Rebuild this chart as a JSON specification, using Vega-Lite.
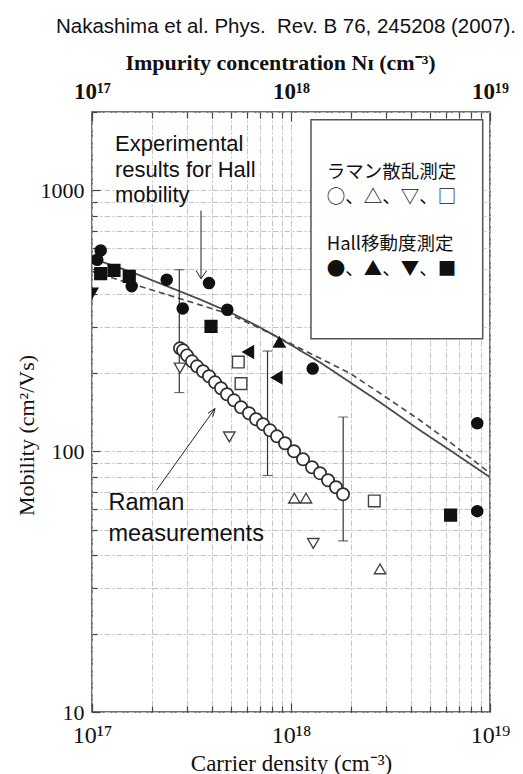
{
  "$schema": "https://vega.github.io/schema/vega-lite/v6.json",
  "width": 398,
  "height": 600,
  "autosize": {"type": "none"},
  "padding": {"left": 92, "top": 112, "right": 33, "bottom": 62},
  "background": "white",
  "config": {
    "view": {"stroke": "#444", "strokeWidth": 1.5},
    "axis": {"domain": false, "labelOverlap": false, "labelFlush": false, "labelBound": false}
  },
  "title": {
    "text": "Nakashima et al. Phys.\u00a0 Rev. B 76, 245208 (2007).",
    "anchor": "end",
    "frame": "group",
    "font": "Liberation Sans",
    "fontSize": 20.5,
    "fontWeight": "normal",
    "color": "#111",
    "dx": 26,
    "offset": 14
  },
  "resolve": {"axis": {"x": "independent"}},
  "datasets": {
    "curves": [
      {"n": 1e17, "mu": 549, "model": "A"},
      {"n": 1.552e17, "mu": 489.3, "model": "A"},
      {"n": 2.197e17, "mu": 440.3, "model": "A"},
      {"n": 3.488e17, "mu": 382.2, "model": "A"},
      {"n": 4.937e17, "mu": 341, "model": "A"},
      {"n": 6.986e17, "mu": 298.7, "model": "A"},
      {"n": 9.885e17, "mu": 257, "model": "A"},
      {"n": 1.399e18, "mu": 219.3, "model": "A"},
      {"n": 1.979e18, "mu": 183.8, "model": "A"},
      {"n": 2.801e18, "mu": 154.1, "model": "A"},
      {"n": 4.448e18, "mu": 120.3, "model": "A"},
      {"n": 6.295e18, "mu": 100.9, "model": "A"},
      {"n": 1e19, "mu": 79.5, "model": "A"},
      {"n": 1e17, "mu": 489.3, "model": "B"},
      {"n": 1.552e17, "mu": 440.3, "model": "B"},
      {"n": 2.197e17, "mu": 406.5, "model": "B"},
      {"n": 3.488e17, "mu": 364.1, "model": "B"},
      {"n": 4.937e17, "mu": 334.9, "model": "B"},
      {"n": 6.986e17, "mu": 296.1, "model": "B"},
      {"n": 9.885e17, "mu": 259.3, "model": "B"},
      {"n": 1.399e18, "mu": 227.2, "model": "B"},
      {"n": 1.979e18, "mu": 199, "model": "B"},
      {"n": 2.801e18, "mu": 166.9, "model": "B"},
      {"n": 4.448e18, "mu": 131.5, "model": "B"},
      {"n": 6.295e18, "mu": 108.3, "model": "B"},
      {"n": 1e19, "mu": 82.4, "model": "B"}
    ],
    "box": [{"x1": 1.26e18, "x2": 9.19e18, "y1": 1866, "y2": 270.3}],
    "errs": [
      {"n": 2.746e17, "lo": 167.9, "hi": 496.8},
      {"n": 7.62e17, "lo": 80.7, "hi": 242.3},
      {"n": 1.829e18, "lo": 45.3, "hi": 135.3}
    ],
    "pts": [
      {"n": 1.106e17, "mu": 589, "s": "1", "method": "Hall"},
      {"n": 1.063e17, "mu": 542.6, "s": "1", "method": "Hall"},
      {"n": 1.583e17, "mu": 429.8, "s": "1", "method": "Hall"},
      {"n": 2.374e17, "mu": 454.9, "s": "1", "method": "Hall"},
      {"n": 3.872e17, "mu": 441.4, "s": "1", "method": "Hall"},
      {"n": 2.857e17, "mu": 353, "s": "1", "method": "Hall"},
      {"n": 4.786e17, "mu": 349, "s": "1", "method": "Hall"},
      {"n": 1.285e18, "mu": 207.5, "s": "1", "method": "Hall"},
      {"n": 8.63e18, "mu": 128, "s": "1", "method": "Hall"},
      {"n": 8.63e18, "mu": 58.9, "s": "1", "method": "Hall"},
      {"n": 1.106e17, "mu": 479.6, "s": "4", "method": "Hall"},
      {"n": 1.29e17, "mu": 493.7, "s": "4", "method": "Hall"},
      {"n": 1.539e17, "mu": 468.3, "s": "4", "method": "Hall"},
      {"n": 3.963e17, "mu": 301.2, "s": "4", "method": "Hall"},
      {"n": 6.34e18, "mu": 56.9, "s": "4", "method": "Hall"},
      {"n": 8.736e17, "mu": 262.3, "s": "2", "method": "Hall"},
      {"n": 1.0e17, "mu": 404, "s": "3", "method": "Hall"},
      {"n": 6.1e17, "mu": 240.2, "s": "5", "method": "Hall"},
      {"n": 8.476e17, "mu": 191.6, "s": "5", "method": "Hall"},
      {"n": 5.436e17, "mu": 219.8, "s": "4", "method": "Raman"},
      {"n": 5.608e17, "mu": 181.7, "s": "4", "method": "Raman"},
      {"n": 2.621e18, "mu": 64.5, "s": "4", "method": "Raman"},
      {"n": 1.039e18, "mu": 66.1, "s": "2", "method": "Raman"},
      {"n": 1.19e18, "mu": 66.1, "s": "2", "method": "Raman"},
      {"n": 2.801e18, "mu": 35.4, "s": "2", "method": "Raman"},
      {"n": 2.768e17, "mu": 208.5, "s": "3", "method": "Raman"},
      {"n": 4.898e17, "mu": 113.4, "s": "3", "method": "Raman"},
      {"n": 1.294e18, "mu": 44.3, "s": "3", "method": "Raman"}
    ],
    "raman": [
      {"n": 2.768e17, "mu": 248.1},
      {"n": 2.867e17, "mu": 243.8},
      {"n": 3.001e17, "mu": 233.2},
      {"n": 3.181e17, "mu": 221.2},
      {"n": 3.371e17, "mu": 211.7},
      {"n": 3.612e17, "mu": 202.6},
      {"n": 3.872e17, "mu": 193.9},
      {"n": 4.151e17, "mu": 183.8},
      {"n": 4.449e17, "mu": 174.4},
      {"n": 4.769e17, "mu": 165.4},
      {"n": 5.171e17, "mu": 156.8},
      {"n": 5.608e17, "mu": 147.5},
      {"n": 6.151e17, "mu": 139.9},
      {"n": 6.672e17, "mu": 132.7},
      {"n": 7.234e17, "mu": 126.9},
      {"n": 7.845e17, "mu": 120.3},
      {"n": 8.505e17, "mu": 114.1},
      {"n": 9.329e17, "mu": 107.3},
      {"n": 1.035e18, "mu": 100},
      {"n": 1.149e18, "mu": 93.2},
      {"n": 1.275e18, "mu": 86.8},
      {"n": 1.399e18, "mu": 82.4},
      {"n": 1.535e18, "mu": 77.4},
      {"n": 1.683e18, "mu": 72.8},
      {"n": 1.825e18, "mu": 68.4}
    ],
    "arrows": [
      {"x": 3.53e17, "y": 838, "x2": 3.53e17, "y2": 458.9},
      {"x": 3.332e17, "y": 493.7, "x2": 3.53e17, "y2": 458.9},
      {"x": 3.771e17, "y": 493.7, "x2": 3.53e17, "y2": 458.9},
      {"x": 2.11e17, "y": 70.9, "x2": 4.151e17, "y2": 145.8},
      {"x": 4.045e17, "y": 135.6, "x2": 4.151e17, "y2": 145.8},
      {"x": 3.823e17, "y": 139.8, "x2": 4.151e17, "y2": 145.8}
    ],
    "notes": [
      {"n": 1.305e17, "mu": 1423, "t": "Experimental", "g": "hall"},
      {"n": 1.305e17, "mu": 1131, "t": "results for Hall", "g": "hall"},
      {"n": 1.305e17, "mu": 899.5, "t": "mobility", "g": "hall"},
      {"n": 1.21e17, "mu": 59.4, "t": "Raman", "g": "raman"},
      {"n": 1.21e17, "mu": 45.3, "t": "measurements", "g": "raman"}
    ],
    "legend": [
      {"n": 1.511e18, "mu": 1182, "t": "ラマン散乱測定"},
      {"n": 1.511e18, "mu": 942.6, "t": "○、△、▽、□"},
      {"n": 1.511e18, "mu": 621, "t": "Hall移動度測定"},
      {"n": 1.511e18, "mu": 501, "t": "●、▲、▼、■"}
    ]
  },
  "layer": [
    {
      "data": {"name": "curves"},
      "mark": {"type": "line", "color": "#4a4a4a", "clip": true},
      "encoding": {
        "x": {
          "field": "n", "type": "quantitative",
          "scale": {"type": "log", "domain": [1e17, 1e19], "nice": false},
          "axis": {
            "orient": "bottom",
            "values": [1e17, 2e17, 3e17, 4e17, 5e17, 6e17, 7e17, 8e17, 9e17, 1e18, 2e18, 3e18, 4e18, 5e18, 6e18, 7e18, 8e18, 9e18, 1e19],
            "grid": true, "gridColor": "#c4c4c4", "gridDash": [6, 2, 2, 2], "gridWidth": 1,
            "labelExpr": "datum.value == 1e17 ? '10¹⁷' : datum.value == 1e18 ? '10¹⁸' : datum.value == 1e19 ? '10¹⁹' : ''",
            "labelFont": "Liberation Serif", "labelFontSize": 24, "labelColor": "#111", "labelPadding": 20,
            "tickColor": "#444", "tickWidth": 1.2,
            "tickSize": {"condition": {"test": "datum.value == 1e17 || datum.value == 1e18 || datum.value == 1e19", "value": -9}, "value": -6},
            "title": "Carrier density (cm⁻³)", "titleFont": "Liberation Serif", "titleFontSize": 23, "titleFontWeight": "normal",
            "titleColor": "#111", "titleX": 199, "titleY": 51, "titleBaseline": "middle"
          }
        },
        "y": {
          "field": "mu", "type": "quantitative",
          "scale": {"type": "log", "domain": [10, 2000], "nice": false},
          "axis": {
            "values": [10, 20, 30, 40, 50, 60, 70, 80, 90, 100, 200, 300, 400, 500, 600, 700, 800, 900, 1000, 2000],
            "grid": true, "gridColor": "#c4c4c4", "gridDash": [6, 2, 2, 2], "gridWidth": 1,
            "labelExpr": "datum.value == 10 ? '10' : datum.value == 100 ? '100' : datum.value == 1000 ? '1000' : ''",
            "labelFont": "Liberation Serif", "labelFontSize": 22, "labelColor": "#111", "labelPadding": 16,
            "tickColor": "#444", "tickWidth": 1.2,
            "tickSize": {"condition": {"test": "datum.value == 10 || datum.value == 100 || datum.value == 1000", "value": -8}, "value": -5},
            "title": "Mobility (cm²/Vs)", "titleFont": "Liberation Serif", "titleFontSize": 22, "titleFontWeight": "normal",
            "titleColor": "#111", "titleX": -66, "titleY": 323, "titleBaseline": "middle", "titleAngle": -90
          }
        },
        "strokeDash": {"field": "model", "type": "nominal", "scale": {"domain": ["A", "B"], "range": [[1, 0], [6, 4]]}, "legend": null},
        "strokeWidth": {"field": "model", "type": "nominal", "scale": {"domain": ["A", "B"], "range": [1.8, 1.4]}, "legend": null}
      }
    },
    {
      "data": {"name": "box"},
      "mark": {"type": "rect", "fill": "white", "stroke": "#555", "strokeWidth": 1.5},
      "encoding": {
        "x": {
          "field": "x1", "type": "quantitative",
          "scale": {"type": "log", "domain": [1e17, 1e19], "nice": false},
          "axis": {
            "orient": "top",
            "values": [1e17, 2e17, 3e17, 4e17, 5e17, 6e17, 7e17, 8e17, 9e17, 1e18, 2e18, 3e18, 4e18, 5e18, 6e18, 7e18, 8e18, 9e18, 1e19],
            "grid": false,
            "labelExpr": "datum.value == 1e17 ? '10¹⁷' : datum.value == 1e18 ? '10¹⁸' : datum.value == 1e19 ? '10¹⁹' : ''",
            "labelFont": "Liberation Serif", "labelFontSize": 23, "labelFontWeight": "bold", "labelColor": "#111", "labelPadding": 18,
            "tickColor": "#444", "tickWidth": 1.2,
            "tickSize": {"condition": {"test": "datum.value == 1e17 || datum.value == 1e18 || datum.value == 1e19", "value": -9}, "value": -6},
            "title": "Impurity concentration Nɪ (cm⁻³)", "titleFont": "Liberation Serif", "titleFontSize": 22, "titleFontWeight": "bold",
            "titleColor": "#111", "titleX": 188, "titleY": -50, "titleBaseline": "middle"
          }
        },
        "x2": {"field": "x2"},
        "y": {"field": "y1", "type": "quantitative"},
        "y2": {"field": "y2"}
      }
    },
    {
      "data": {"name": "errs"},
      "mark": {"type": "rule", "color": "#333", "strokeWidth": 1.2},
      "encoding": {
        "x": {"field": "n", "type": "quantitative", "axis": null},
        "y": {"field": "lo", "type": "quantitative"},
        "y2": {"field": "hi"}
      }
    },
    {
      "data": {"name": "errs"},
      "mark": {"type": "tick", "orient": "horizontal", "color": "#333", "size": 10, "thickness": 1.2},
      "encoding": {
        "x": {"field": "n", "type": "quantitative", "axis": null},
        "y": {"field": "lo", "type": "quantitative"}
      }
    },
    {
      "data": {"name": "errs"},
      "mark": {"type": "tick", "orient": "horizontal", "color": "#333", "size": 10, "thickness": 1.2},
      "encoding": {
        "x": {"field": "n", "type": "quantitative", "axis": null},
        "y": {"field": "hi", "type": "quantitative"}
      }
    },
    {
      "data": {"name": "pts"},
      "mark": {"type": "point", "filled": true, "opacity": 1, "clip": true},
      "encoding": {
        "x": {"field": "n", "type": "quantitative", "axis": null},
        "y": {"field": "mu", "type": "quantitative"},
        "shape": {"field": "s", "type": "nominal", "scale": {"domain": ["1", "2", "3", "4", "5"], "range": ["circle", "triangle-up", "triangle-down", "square", "triangle-left"]}, "legend": null},
        "size": {"field": "s", "type": "nominal", "scale": {"domain": ["1", "2", "3", "4", "5"], "range": [121, 140, 140, 72, 125]}, "legend": null},
        "fill": {"field": "method", "type": "nominal", "scale": {"domain": ["Hall", "Raman"], "range": ["#111", "#ffffff"]}, "legend": null},
        "stroke": {"field": "method", "type": "nominal", "scale": {"domain": ["Hall", "Raman"], "range": ["#111", "#444444"]}, "legend": null},
        "strokeWidth": {"field": "method", "type": "nominal", "scale": {"domain": ["Hall", "Raman"], "range": [0.5, 1.3]}, "legend": null}
      }
    },
    {
      "data": {"name": "raman"},
      "mark": {"type": "point", "shape": "circle", "filled": false, "fill": "#ffffff", "fillOpacity": 1, "stroke": "#2e2e2e", "strokeWidth": 1.7, "size": 150, "opacity": 1},
      "encoding": {
        "x": {"field": "n", "type": "quantitative", "axis": null},
        "y": {"field": "mu", "type": "quantitative"}
      }
    },
    {
      "data": {"name": "arrows"},
      "mark": {"type": "rule", "color": "#222", "strokeWidth": 1},
      "encoding": {
        "x": {"field": "x", "type": "quantitative", "axis": null},
        "y": {"field": "y", "type": "quantitative"},
        "x2": {"field": "x2"},
        "y2": {"field": "y2"}
      }
    },
    {
      "data": {"name": "notes"},
      "transform": [{"filter": "datum.g == 'hall'"}],
      "mark": {"type": "text", "align": "left", "baseline": "alphabetic", "font": "Liberation Sans", "fontSize": 22, "color": "#111"},
      "encoding": {
        "x": {"field": "n", "type": "quantitative", "axis": null},
        "y": {"field": "mu", "type": "quantitative"},
        "text": {"field": "t"}
      }
    },
    {
      "data": {"name": "notes"},
      "transform": [{"filter": "datum.g == 'raman'"}],
      "mark": {"type": "text", "align": "left", "baseline": "alphabetic", "font": "Liberation Sans", "fontSize": 23.5, "color": "#111"},
      "encoding": {
        "x": {"field": "n", "type": "quantitative", "axis": null},
        "y": {"field": "mu", "type": "quantitative"},
        "text": {"field": "t"}
      }
    },
    {
      "data": {"name": "legend"},
      "mark": {"type": "text", "align": "left", "baseline": "middle", "font": "Noto Sans CJK JP", "fontSize": 18.5, "color": "#111"},
      "encoding": {
        "x": {"field": "n", "type": "quantitative", "axis": null},
        "y": {"field": "mu", "type": "quantitative"},
        "text": {"field": "t"}
      }
    }
  ]
}
